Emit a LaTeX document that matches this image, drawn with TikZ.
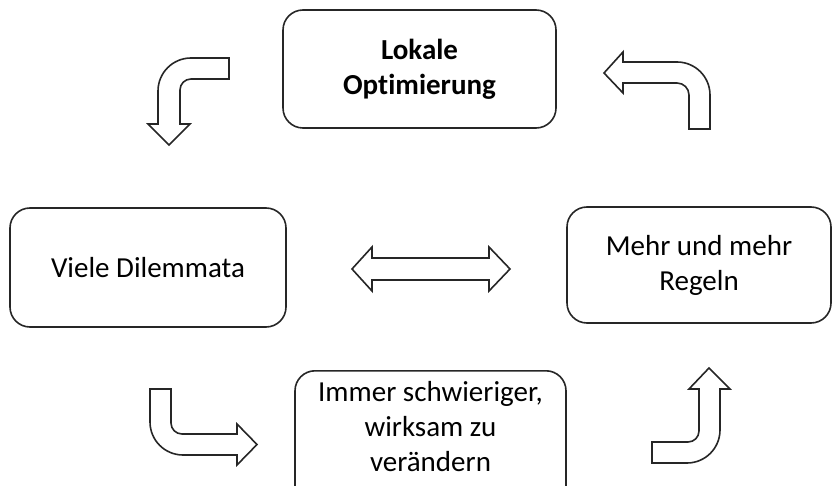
\documentclass[tikz,border=0pt]{standalone}
\usepackage{fontspec}
\setmainfont{Carlito}[Ligatures=CommonOff]
\usepackage{tikz}
\usetikzlibrary{positioning}

\begin{document}
\begin{tikzpicture}[
  x=1pt, y=1pt,
  every node/.style={font=\fontsize{29}{35}\selectfont},
  box/.style={draw=black!85, line width=1.6pt, rounded corners=20pt, align=center, fill=white},
  blockarrow/.style={draw=black!85, line width=1.6pt, fill=white, line join=miter}
]
\useasboundingbox (0,0) rectangle (832,485);
\clip (0,0) rectangle (832,485);

% the four boxes
\node[box, minimum width=273pt, minimum height=118pt] (opt) at (419.5,416) {\textbf{Lokale}\\\textbf{Optimierung}};
\node[box, minimum width=276pt, minimum height=119pt] (dil) at (148,217.5) {Viele Dilemmata};
\node[box, minimum width=264pt, minimum height=116pt] (reg) at (699,220) {Mehr und mehr\\Regeln};
\node[box, minimum width=271pt, minimum height=160pt, anchor=north,
  label={[align=center, yshift=24pt]center:{Immer schwieriger,\\wirksam zu\\ver\"andern}}] (imm) at (430.5,115) {};

% bent block arrows
\draw[blockarrow] (229,427) -- (191,427) arc(90:180:33) -- (158,361) -- (148,361)
  -- (169,340) -- (190,361) -- (180,361) -- (180,395) arc(180:90:11) -- (229,406) -- cycle;
\draw[blockarrow] (604,412) -- (623,433) -- (623,423) -- (677,423) arc(90:0:33)
  -- (710,356) -- (689,356) -- (689,390) arc(0:90:12) -- (623,402) -- (623,392) -- cycle;
\draw[blockarrow] (150,96) -- (171,96) -- (171,62) arc(180:270:11) -- (237,51) -- (237,61)
  -- (257,40.5) -- (237,20) -- (237,30) -- (183,30) arc(270:180:33) -- cycle;
\draw[blockarrow] (709,117) -- (730,96) -- (720,96) -- (720,55) arc(0:-90:33) -- (652,22)
  -- (652,43) -- (688,43) arc(270:360:11) -- (699,96) -- (689,96) -- cycle;

% double arrow in the middle
\draw[blockarrow] (352,216) -- (372,238) -- (372,227) -- (489,227) -- (489,238) -- (510,216)
  -- (489,194) -- (489,205) -- (372,205) -- (372,194) -- cycle;
\end{tikzpicture}
\end{document}
